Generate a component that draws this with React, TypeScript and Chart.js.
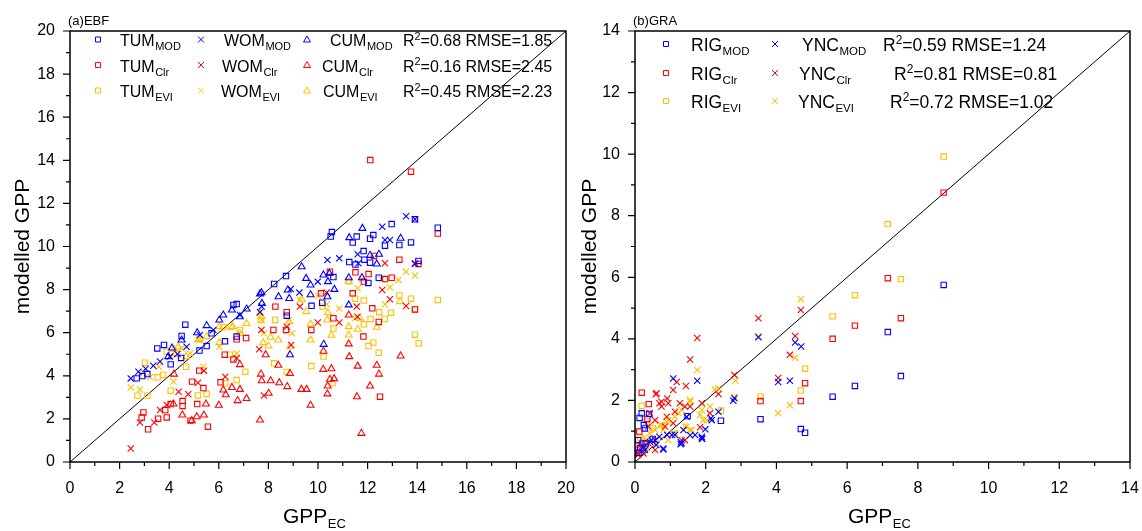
import React, { useEffect, useRef } from 'react';
import { Chart, registerables } from 'chart.js';
Chart.register(...registerables);

const BLUE = '#0000FF';
const RED = '#FF0000';
const YEL = '#FFC000';
const FONT = '"Liberation Sans", Arial, Helvetica, sans-serif';

type P = [number, number];

// ---------- (a) EBF ----------
const EBF_X_TICKS = [0, 2, 4, 6, 8, 10, 12, 14, 16, 18, 20];
const EBF_Y_TICKS = [0, 2, 4, 6, 8, 10, 12, 14, 16, 18, 20];
const EBF_STATS = ['R2=0.68 RMSE=1.85', 'R2=0.16 RMSE=2.45', 'R2=0.45 RMSE=2.23'];

const TUM_MOD: P[] = [[14.83,10.87],[13.91,11.26],[12.97,11.04],[13.75,10.19],[12.70,10.04],[13.28,10.07],[14.05,9.33],[12.23,10.53],[12.10,10.36],[11.56,10.46],[11.40,10.18],[11.84,9.79],[11.87,9.39],[12.10,9.25],[11.26,9.28],[11.51,9.16],[12.03,8.31],[12.45,8.55],[10.51,10.46],[10.56,10.67],[10.62,8.58],[8.71,8.63],[8.23,8.26],[10.17,7.39],[9.74,7.25],[8.74,6.79],[6.72,7.33],[6.59,7.29],[6.72,5.82],[6.25,5.60],[5.71,5.97],[5.51,5.38],[5.22,5.17],[4.65,6.37],[4.50,5.85],[4.48,4.83],[3.79,5.43],[3.52,5.27],[4.06,4.53],[3.12,4.08],[2.92,3.99],[2.69,3.88]];
const WOM_MOD: P[] = [[13.55,11.40],[12.59,10.92],[12.70,10.30],[12.90,10.30],[13.91,11.26],[13.91,9.19],[11.60,9.64],[11.63,9.22],[10.86,9.45],[10.38,9.37],[9.99,8.37],[9.25,7.86],[8.90,8.03],[7.73,7.21],[7.66,6.95],[6.85,6.82],[5.78,6.13],[5.24,5.89],[4.70,5.35],[4.33,5.01],[4.03,4.89],[3.63,4.66],[3.36,4.47],[3.05,4.33],[2.76,4.19],[2.45,3.88]];
const CUM_MOD: P[] = [[11.79,10.84],[11.26,10.41],[13.33,10.38],[12.46,9.64],[12.10,9.59],[12.37,9.19],[11.24,8.55],[11.77,8.55],[10.46,8.75],[10.22,8.68],[10.40,8.37],[10.66,8.01],[10.38,7.67],[11.24,7.29],[9.52,8.52],[9.70,8.21],[9.34,9.06],[9.70,7.76],[8.84,7.59],[8.78,7.98],[8.41,7.67],[7.72,7.86],[7.66,7.80],[7.74,7.36],[7.12,7.10],[6.85,6.74],[6.53,7.05],[6.18,6.82],[6.02,6.59],[5.51,6.33],[5.13,6.00],[4.50,5.66],[4.11,5.29],[3.96,4.89],[10.23,5.46],[8.87,4.98]];
const TUM_CLR: P[] = [[12.11,14.01],[13.75,13.47],[14.83,10.60],[13.28,9.39],[14.05,9.19],[12.26,9.56],[11.51,8.80],[12.04,8.72],[11.85,8.37],[12.97,8.55],[12.70,8.49],[11.40,7.83],[10.48,8.83],[10.12,7.83],[12.19,7.13],[12.45,6.50],[11.83,5.82],[10.62,6.67],[9.73,6.13],[8.74,6.95],[8.28,7.21],[8.20,6.13],[8.71,6.13],[7.10,5.75],[6.72,5.69],[6.24,4.98],[6.59,4.76],[6.07,3.70],[5.21,4.24],[4.92,3.73],[5.38,3.43],[4.54,2.83],[4.54,2.60],[4.06,2.69],[3.84,2.41],[3.55,2.01],[3.90,2.07],[2.96,2.30],[2.89,2.06],[3.15,1.52],[5.56,1.64],[5.13,2.69],[4.86,1.92],[12.50,3.03],[13.91,7.08]];
const WOM_CLR: P[] = [[2.45,0.63],[2.82,1.83],[3.40,1.83],[3.63,2.41],[3.90,2.65],[4.38,3.26],[4.77,3.14],[5.16,3.68],[5.40,4.24],[6.26,3.96],[6.72,4.81],[7.63,5.23],[7.72,6.13],[7.82,3.09],[8.92,5.43],[9.27,7.21],[9.99,6.47],[10.35,7.86],[10.86,6.47],[11.56,7.21],[11.59,6.74],[12.59,7.98],[12.70,9.22],[12.90,7.55],[13.55,7.24],[13.91,9.22],[8.74,6.28]];
const CUM_CLR: P[] = [[13.33,4.92],[11.75,1.33],[11.57,3.03],[12.10,3.53],[12.46,4.08],[12.37,4.49],[11.60,4.45],[11.26,4.89],[11.24,5.48],[11.24,6.82],[10.54,4.33],[10.21,4.30],[10.65,3.87],[10.48,3.84],[10.39,3.53],[10.38,3.16],[10.22,5.14],[9.70,2.63],[9.54,3.37],[9.33,3.37],[8.87,4.11],[8.76,3.50],[8.44,3.68],[8.40,4.49],[8.09,3.77],[7.73,3.77],[7.70,4.08],[7.89,4.98],[8.01,3.19],[7.66,1.95],[7.12,2.95],[6.85,3.37],[6.85,4.52],[6.76,2.85],[6.53,3.46],[6.28,3.12],[6.18,3.34],[6.00,2.63],[5.48,2.69],[5.40,2.18],[5.11,2.10],[4.91,1.92],[4.53,2.18],[4.17,2.69],[4.19,4.08]];
const TUM_EVI: P[] = [[14.83,7.52],[13.75,7.58],[13.28,7.73],[13.91,7.08],[13.91,5.91],[14.06,5.51],[12.94,6.93],[12.69,6.64],[12.47,6.95],[12.12,6.64],[12.23,5.54],[12.04,5.38],[12.45,5.07],[11.85,7.49],[11.49,7.58],[11.25,8.40],[11.85,6.39],[10.62,6.19],[10.19,7.21],[10.22,4.89],[10.59,3.65],[9.73,4.45],[8.74,4.18],[8.23,4.58],[8.27,6.59],[7.69,6.59],[7.07,4.19],[6.72,3.80],[6.85,6.13],[6.26,3.65],[6.45,4.98],[6.18,6.25],[5.51,3.16],[5.16,3.09],[4.68,4.42],[4.06,3.31],[3.76,4.04],[3.53,3.93],[3.12,3.08],[2.72,3.08],[3.02,4.61],[3.90,5.12],[4.30,5.04],[5.24,5.69],[6.48,6.28]];
const WOM_EVI: P[] = [[13.91,8.65],[13.55,8.83],[13.24,8.45],[12.90,8.11],[12.70,7.32],[12.57,8.48],[11.76,8.48],[11.60,8.06],[11.49,6.67],[10.86,7.12],[10.35,7.32],[10.00,7.70],[9.27,7.52],[8.95,5.97],[8.82,6.59],[7.82,5.97],[7.73,6.59],[6.72,5.04],[6.02,5.35],[5.38,4.42],[5.18,5.66],[4.84,5.04],[4.50,5.27],[4.17,3.73],[3.58,4.42],[3.23,3.93],[2.82,3.37],[2.45,3.46],[2.96,4.15]];
const CUM_EVI: P[] = [[13.31,7.44],[12.37,6.25],[11.69,6.67],[11.60,6.16],[11.24,6.28],[11.24,5.89],[11.24,8.37],[10.54,5.88],[10.38,6.59],[10.40,6.93],[9.70,5.66],[9.70,6.40],[9.52,6.98],[9.34,7.55],[8.87,5.35],[8.84,6.51],[8.40,5.66],[8.09,5.79],[8.00,5.38],[7.79,5.54],[7.73,6.74],[7.66,6.90],[7.12,6.43],[6.85,5.97],[6.56,6.28],[6.02,5.54],[6.02,6.28],[5.51,5.82],[5.18,5.69],[4.68,4.89],[4.37,5.35],[4.23,5.01],[4.19,5.23]];

// ---------- (b) GRA ----------
const GRA_X_TICKS = [0, 2, 4, 6, 8, 10, 12, 14];
const GRA_Y_TICKS = [0, 2, 4, 6, 8, 10, 12, 14];
const GRA_STATS = ['R2=0.59 RMSE=1.24', 'R2=0.81 RMSE=0.81', 'R2=0.72 RMSE=1.02'];

const RIG_MOD: P[] = [[8.73,5.75],[7.52,2.79],[7.15,4.22],[6.22,2.47],[5.59,2.12],[4.81,0.95],[4.69,1.07],[3.55,1.39],[2.43,1.34],[1.49,1.49],[0.19,1.58],[0.13,1.43],[0.25,1.20],[0.40,1.56],[0.28,1.09],[0.09,0.71],[0.15,0.45],[0.30,0.60],[0.50,0.75],[0.10,0.30]];
const YNC_MOD: P[] = [[1.08,2.71],[1.76,2.64],[2.81,2.07],[2.78,1.99],[3.49,4.05],[4.05,2.60],[4.38,2.64],[4.53,3.88],[4.70,3.75],[2.36,1.63],[2.15,1.42],[1.99,1.06],[1.89,0.82],[1.56,0.87],[1.29,0.58],[0.80,0.41],[1.13,0.88],[0.91,0.88],[0.69,0.82],[0.42,0.66],[0.24,0.50],[1.37,1.04],[1.46,1.47],[1.90,0.75],[1.30,0.65],[0.60,0.55],[0.80,0.44],[1.89,0.77],[1.32,0.61],[1.70,0.88],[2.17,1.36],[1.04,0.88],[0.57,0.71],[0.28,0.39]];
const RIG_CLR: P[] = [[8.73,8.75],[7.15,5.97],[7.52,4.67],[6.22,4.43],[5.59,4.00],[4.81,2.56],[4.69,1.98],[3.55,1.98],[0.19,2.25],[0.39,1.88],[0.12,0.99],[0.35,1.40],[0.20,0.60],[0.10,0.40]];
const YNC_CLR: P[] = [[3.49,4.67],[4.69,4.94],[4.53,4.09],[4.38,3.48],[4.05,2.73],[2.81,2.83],[1.76,4.03],[1.56,3.33],[1.18,2.60],[1.08,2.34],[1.44,2.47],[0.59,2.20],[0.91,2.06],[0.69,1.91],[0.75,1.80],[1.27,1.91],[1.56,1.80],[1.89,1.91],[2.36,2.21],[2.12,1.58],[1.84,1.13],[1.32,0.71],[0.57,0.39],[0.24,0.28],[0.09,0.23],[0.38,0.61],[0.90,1.47],[0.42,1.58],[1.08,1.26],[0.61,2.23],[0.75,1.96],[0.94,1.91],[1.13,1.63],[1.41,1.80],[0.57,1.36],[0.38,1.15],[0.85,1.15],[1.41,0.71],[0.19,0.50],[0.09,0.28],[0.47,0.71]];
const RIG_EVI: P[] = [[8.73,9.92],[7.15,7.73],[7.52,5.94],[6.22,5.42],[5.59,4.73],[4.81,3.03],[4.69,2.32],[3.55,2.12],[2.43,1.67],[0.19,1.82],[0.33,1.31],[0.50,1.10],[0.15,0.80],[0.30,0.50]];
const YNC_EVI: P[] = [[4.69,5.29],[4.53,3.39],[4.38,1.84],[4.05,1.58],[3.49,4.09],[2.84,2.64],[2.81,2.12],[2.36,2.39],[2.12,1.80],[1.84,1.53],[1.76,2.99],[1.56,2.01],[1.32,1.69],[1.13,1.47],[0.89,1.31],[0.71,1.20],[0.57,1.04],[0.42,0.93],[0.24,0.77],[0.09,0.61],[1.46,1.15],[1.56,1.04],[1.93,1.36],[0.80,1.04],[1.08,0.93],[0.33,0.71],[2.26,2.36],[1.89,1.69],[2.03,1.36],[1.56,1.96],[1.23,1.58],[0.94,1.36],[0.75,1.20],[1.41,1.15],[1.13,0.93],[1.60,1.04],[0.94,0.71],[0.61,0.61],[0.33,0.44]];

type Series = { name: string; sub: string; data: P[]; color: string; style: string };
type LegendCol = { markerX: number; textX: number[] };
type PanelCfg = {
  width: number; height: number; left: number; right: number; top: number; bottom: number;
  max: number; xTicks: number[]; yTicks: number[]; series: Series[];
  tag: string; stats: string[]; statX: number[]; rowY: number[];
  cols: LegendCol[]; colSeries: number[][]; legendSize: number; subSize: number;
  yTitleX: number; xTitleStart: number;
};

const sq = 'rect', cr = 'crossRot', tr = 'triangle';

const PANEL_A: PanelCfg = {
  width: 575, height: 531, left: 70, right: 566, top: 31, bottom: 462,
  max: 20, xTicks: EBF_X_TICKS, yTicks: EBF_Y_TICKS,
  series: [
    { name: 'TUM', sub: 'MOD', data: TUM_MOD, color: BLUE, style: sq },
    { name: 'WOM', sub: 'MOD', data: WOM_MOD, color: BLUE, style: cr },
    { name: 'CUM', sub: 'MOD', data: CUM_MOD, color: BLUE, style: tr },
    { name: 'TUM', sub: 'Clr', data: TUM_CLR, color: RED, style: sq },
    { name: 'WOM', sub: 'Clr', data: WOM_CLR, color: RED, style: cr },
    { name: 'CUM', sub: 'Clr', data: CUM_CLR, color: RED, style: tr },
    { name: 'TUM', sub: 'EVI', data: TUM_EVI, color: YEL, style: sq },
    { name: 'WOM', sub: 'EVI', data: WOM_EVI, color: YEL, style: cr },
    { name: 'CUM', sub: 'EVI', data: CUM_EVI, color: YEL, style: tr },
  ],
  tag: '(a)EBF', stats: EBF_STATS, statX: [403, 403, 403], rowY: [39.5, 65, 90.5],
  cols: [
    { markerX: 98, textX: [120, 120, 120] },
    { markerX: 201, textX: [224, 222, 221] },
    { markerX: 307, textX: [330, 322, 323] },
  ],
  colSeries: [[0, 3, 6], [1, 4, 7], [2, 5, 8]],
  legendSize: 16, subSize: 11, yTitleX: 23, xTitleStart: 283,
};

const PANEL_B: PanelCfg = {
  width: 567, height: 531, left: 60, right: 555, top: 31, bottom: 462,
  max: 14, xTicks: GRA_X_TICKS, yTicks: GRA_Y_TICKS,
  series: [
    { name: 'RIG', sub: 'MOD', data: RIG_MOD, color: BLUE, style: sq },
    { name: 'YNC', sub: 'MOD', data: YNC_MOD, color: BLUE, style: cr },
    { name: 'RIG', sub: 'Clr', data: RIG_CLR, color: RED, style: sq },
    { name: 'YNC', sub: 'Clr', data: YNC_CLR, color: RED, style: cr },
    { name: 'RIG', sub: 'EVI', data: RIG_EVI, color: YEL, style: sq },
    { name: 'YNC', sub: 'EVI', data: YNC_EVI, color: YEL, style: cr },
  ],
  tag: '(b)GRA', stats: GRA_STATS, statX: [308, 319, 315], rowY: [44, 73, 101],
  cols: [
    { markerX: 91, textX: [116, 116, 116] },
    { markerX: 200, textX: [227, 224, 223] },
  ],
  colSeries: [[0, 2, 4], [1, 3, 5]],
  legendSize: 17.5, subSize: 11.5, yTitleX: 15, xTitleStart: 273,
};

function drawMarker(ctx: CanvasRenderingContext2D, style: string, x: number, y: number, color: string) {
  ctx.save();
  ctx.strokeStyle = color;
  ctx.lineWidth = 1;
  ctx.beginPath();
  if (style === sq) {
    ctx.rect(x - 2.5, y - 2.5, 5, 5);
  } else if (style === cr) {
    ctx.moveTo(x - 3, y - 3); ctx.lineTo(x + 3, y + 3);
    ctx.moveTo(x + 3, y - 3); ctx.lineTo(x - 3, y + 3);
  } else {
    ctx.moveTo(x, y - 3.5); ctx.lineTo(x + 3.5, y + 2.5); ctx.lineTo(x - 3.5, y + 2.5); ctx.closePath();
  }
  ctx.stroke();
  ctx.restore();
}

function drawSub(ctx: CanvasRenderingContext2D, x: number, y: number, main: string, sub: string, size: number, subSize: number) {
  ctx.font = `${size}px ${FONT}`;
  ctx.fillText(main, x, y);
  const w = ctx.measureText(main).width;
  ctx.font = `${subSize}px ${FONT}`;
  ctx.fillText(sub, x + w + 0.5, y + size * 0.25);
}

function drawStat(ctx: CanvasRenderingContext2D, x: number, y: number, s: string, size: number) {
  ctx.font = `${size}px ${FONT}`;
  ctx.fillText('R', x, y);
  const w = ctx.measureText('R').width;
  ctx.font = `${size * 0.68}px ${FONT}`;
  ctx.fillText('2', x + w, y - size * 0.4);
  const w2 = ctx.measureText('2').width;
  ctx.font = `${size}px ${FONT}`;
  ctx.fillText(s.slice(2), x + w + w2, y);
}

function makeDecorPlugin(cfg: PanelCfg) {
  return {
    id: 'decor',
    afterDraw(chart: any) {
      const ctx: CanvasRenderingContext2D = chart.ctx;
      const { left, right, top, bottom } = chart.chartArea;
      const xs = chart.scales.x;
      const ys = chart.scales.y;
      ctx.save();
      ctx.strokeStyle = '#000';
      ctx.lineWidth = 1.5;
      ctx.strokeRect(left, top, right - left, bottom - top);
      ctx.lineWidth = 1.2;
      ctx.beginPath();
      for (let v = 0; v <= cfg.max; v += 1) {
        const len = v % 2 === 0 ? 7 : 4;
        const px = xs.getPixelForValue(v);
        ctx.moveTo(px, bottom); ctx.lineTo(px, bottom + len);
        const py = ys.getPixelForValue(v);
        ctx.moveTo(left, py); ctx.lineTo(left - len, py);
      }
      ctx.stroke();
      ctx.fillStyle = '#000';
      ctx.textBaseline = 'alphabetic';
      ctx.textAlign = 'left';
      ctx.font = `13px ${FONT}`;
      ctx.fillText(cfg.tag, left - 2, top - 6);
      cfg.colSeries.forEach((idxs, c) => {
        const col = cfg.cols[c];
        idxs.forEach((si, r) => {
          const s = cfg.series[si];
          const y = cfg.rowY[r];
          drawMarker(ctx, s.style, col.markerX, y, s.color);
          ctx.fillStyle = '#000';
          drawSub(ctx, col.textX[r], y + 6.5, s.name, s.sub, cfg.legendSize, cfg.subSize);
        });
      });
      cfg.stats.forEach((s, r) => {
        ctx.fillStyle = '#000';
        drawStat(ctx, cfg.statX[r], cfg.rowY[r] + 6.5, s, cfg.legendSize);
      });
      ctx.save();
      ctx.translate(cfg.yTitleX, (top + bottom) / 2);
      ctx.rotate(-Math.PI / 2);
      ctx.textAlign = 'center';
      ctx.textBaseline = 'middle';
      ctx.font = `21px ${FONT}`;
      ctx.fillText('modelled GPP', 0, 0);
      ctx.restore();
      ctx.textAlign = 'left';
      ctx.textBaseline = 'alphabetic';
      drawSub(ctx, cfg.xTitleStart, 523, 'GPP', 'EC', 21, 13);
      ctx.restore();
    },
  };
}

function buildConfig(cfg: PanelCfg): any {
  const datasets: any[] = cfg.series.map((s) => ({
    label: `${s.name}_${s.sub}`,
    data: s.data.map(([x, y]) => ({ x, y })),
    pointStyle: s.style,
    pointRadius: s.style === sq ? 3.8 : s.style === cr ? 4.4 : 4,
    pointBorderColor: s.color,
    pointBackgroundColor: 'rgba(0,0,0,0)',
    pointBorderWidth: 1.1,
    showLine: false,
  }));
  datasets.push({
    type: 'line',
    label: '1:1',
    data: [{ x: 0, y: 0 }, { x: cfg.max, y: cfg.max }],
    borderColor: '#000',
    borderWidth: 1,
    pointRadius: 0,
    fill: false,
  });
  const tickFont = { family: FONT, size: 16 };
  return {
    type: 'scatter',
    data: { datasets },
    options: {
      animation: false,
      responsive: false,
      devicePixelRatio: 1,
      layout: { padding: { left: 0, top: cfg.top, right: cfg.width - cfg.right, bottom: 0 } },
      plugins: { legend: { display: false }, tooltip: { enabled: false } },
      scales: {
        x: {
          type: 'linear', min: 0, max: cfg.max,
          afterBuildTicks: (sc: any) => { sc.ticks = cfg.xTicks.map((v) => ({ value: v })); },
          afterFit: (sc: any) => { sc.height = cfg.height - cfg.bottom; sc.paddingLeft = 0; sc.paddingRight = 0; },
          grid: { display: false, drawTicks: false },
          border: { display: false },
          ticks: { font: tickFont, color: '#000', padding: 17, autoSkip: false, maxRotation: 0 },
        },
        y: {
          type: 'linear', min: 0, max: cfg.max,
          afterBuildTicks: (sc: any) => { sc.ticks = cfg.yTicks.map((v) => ({ value: v })); },
          afterFit: (sc: any) => { sc.width = cfg.left; sc.paddingTop = 0; sc.paddingBottom = 0; },
          grid: { display: false, drawTicks: false },
          border: { display: false },
          ticks: { font: tickFont, color: '#000', padding: 15, autoSkip: false },
        },
      },
    },
    plugins: [makeDecorPlugin(cfg)],
  };
}

function Panel({ cfg, x }: { cfg: PanelCfg; x: number }) {
  const ref = useRef<HTMLCanvasElement | null>(null);
  useEffect(() => {
    if (!ref.current) return;
    const chart = new Chart(ref.current, buildConfig(cfg));
    return () => chart.destroy();
  }, [cfg]);
  return (
    <canvas
      ref={ref}
      width={cfg.width}
      height={cfg.height}
      style={{ position: 'absolute', left: x, top: 0, width: cfg.width, height: cfg.height }}
    />
  );
}

export default function App() {
  return (
    <div style={{ position: 'fixed', left: 0, top: 0, width: 1142, height: 531, background: '#fff' }}>
      <Panel cfg={PANEL_A} x={0} />
      <Panel cfg={PANEL_B} x={575} />
    </div>
  );
}
